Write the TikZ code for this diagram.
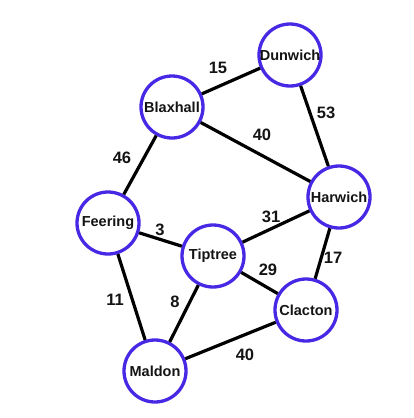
\documentclass[tikz,border=0pt]{standalone}
\usepackage{fontspec}
\setmainfont{Liberation Sans}
\definecolor{ringblue}{RGB}{72,40,228}
\definecolor{ink}{RGB}{20,20,20}
\begin{document}
\begin{tikzpicture}[x=1pt,y=-1pt,
  town/.style={circle,draw=ringblue,line width=3.3pt,fill=white,minimum size=62pt,inner sep=0pt,
    font=\fontsize{14.5}{14.5}\selectfont\bfseries,text=ink},
  road/.style={line width=3.2pt,draw=black},
  wt/.style={font=\fontsize{16.5}{16.5}\selectfont\bfseries,text=ink}]
\useasboundingbox[fill=white] (0,0) rectangle (413,418);
\node[town] (dun) at (290,55) {Dunwich};
\node[town] (bla) at (172,107) {Blaxhall};
\node[town] (har) at (339,197) {Harwich};
\node[town] (fee) at (108,223) {Feering};
\node[town] (tip) at (213,256) {Tiptree};
\node[town] (cla) at (306,310) {Clacton};
\node[town] (mal) at (155,371) {Maldon};
\draw[road] (bla) -- (dun);
\draw[road] (dun) -- (har);
\draw[road] (bla) -- (har);
\draw[road] (bla) -- (fee);
\draw[road] (fee) -- (tip);
\draw[road] (tip) -- (har);
\draw[road] (har) -- (cla);
\draw[road] (tip) -- (cla);
\draw[road] (fee) -- (mal);
\draw[road] (tip) -- (mal);
\draw[road] (mal) -- (cla);
\node[wt] (w1) at (218,68) {15};
\node[wt] (w2) at (326,113) {53};
\node[wt] (w3) at (262,135) {40};
\node[wt] (w4) at (122,158) {46};
\node[wt] (w5) at (271,217) {31};
\node[wt] (w6) at (160,230) {3};
\node[wt] (w7) at (333,258) {17};
\node[wt] (w8) at (268,270) {29};
\node[wt] (w9) at (115,300) {11};
\node[wt] (w10) at (175,302) {8};
\node[wt] (w11) at (245,355) {40};
\end{tikzpicture}
\end{document}
